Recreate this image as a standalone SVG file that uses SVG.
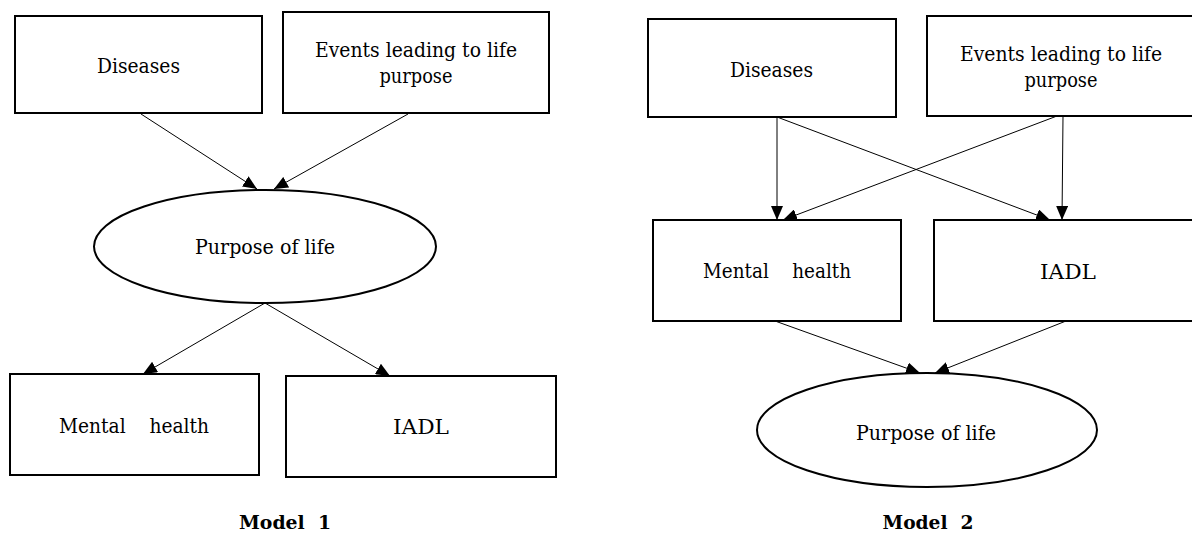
<svg xmlns="http://www.w3.org/2000/svg" width="1192" height="534" viewBox="0 0 1192 534">
<defs>
<style>
.box{fill:#fff;stroke:#000;stroke-width:2}
.ell{fill:#fff;stroke:#000;stroke-width:2}
text{font-family:"DejaVu Serif", "Liberation Serif", serif;font-size:20px;fill:#000}
.cap{font-weight:bold;font-size:19px}
.edge{stroke:#000;stroke-width:1;fill:none;marker-end:url(#ah)}
</style>
<marker id="ah" markerUnits="userSpaceOnUse" markerWidth="14" markerHeight="12" refX="14" refY="6" orient="auto">
<path d="M0,0 L14,6 L0,12 z" fill="#000"/>
</marker>
</defs>
<rect width="1192" height="534" fill="#fff"/>
<g id="connectors">
<line class="edge" x1="141" y1="114" x2="257" y2="189"/>
<line class="edge" x1="408" y1="114" x2="274" y2="189"/>
<line class="edge" x1="265" y1="303" x2="143" y2="374"/>
<line class="edge" x1="265" y1="303" x2="390" y2="376"/>
<line class="edge" x1="777" y1="117" x2="777" y2="220"/>
<line class="edge" x1="777" y1="117" x2="1050" y2="220"/>
<line class="edge" x1="1057" y1="116" x2="783" y2="220"/>
<line class="edge" x1="1063" y1="116" x2="1062" y2="220"/>
<line class="edge" x1="775" y1="321" x2="920" y2="373"/>
<line class="edge" x1="1066" y1="321" x2="935" y2="373"/>
</g>
<g id="m1-diseases">
<rect class="box" x="15" y="16" width="247" height="97"/>
<text x="138.5" y="73" text-anchor="middle" textLength="83" lengthAdjust="spacingAndGlyphs">Diseases</text>
</g>
<g id="m1-events">
<rect class="box" x="283" y="12" width="266" height="101"/>
<text x="416" y="57" text-anchor="middle" textLength="202" lengthAdjust="spacingAndGlyphs">Events leading to life</text>
<text x="416" y="83" text-anchor="middle" textLength="73" lengthAdjust="spacingAndGlyphs">purpose</text>
</g>
<g id="m1-purpose">
<ellipse class="ell" cx="265" cy="246.5" rx="171" ry="56.5"/>
<text x="265" y="254" text-anchor="middle" textLength="140" lengthAdjust="spacingAndGlyphs">Purpose of life</text>
</g>
<g id="m1-mental">
<rect class="box" x="10" y="374" width="249" height="101"/>
<text x="59" y="433" textLength="150" lengthAdjust="spacingAndGlyphs" xml:space="preserve">Mental    health</text>
</g>
<g id="m1-iadl">
<rect class="box" x="286" y="376" width="270" height="101"/>
<text x="421" y="434" text-anchor="middle" textLength="56" lengthAdjust="spacingAndGlyphs">IADL</text>
</g>
<g id="m1-caption">
<text class="cap" x="285" y="529" text-anchor="middle" textLength="92" lengthAdjust="spacingAndGlyphs" xml:space="preserve">Model  1</text>
</g>
<g id="m2-diseases">
<rect class="box" x="648" y="19" width="248" height="98"/>
<text x="771.5" y="77" text-anchor="middle" textLength="83" lengthAdjust="spacingAndGlyphs">Diseases</text>
</g>
<g id="m2-events">
<rect class="box" x="927" y="16" width="268" height="100"/>
<text x="1061" y="61" text-anchor="middle" textLength="202" lengthAdjust="spacingAndGlyphs">Events leading to life</text>
<text x="1061" y="87" text-anchor="middle" textLength="73" lengthAdjust="spacingAndGlyphs">purpose</text>
</g>
<g id="m2-mental">
<rect class="box" x="653" y="220" width="248" height="101"/>
<text x="703" y="278" textLength="148" lengthAdjust="spacingAndGlyphs" xml:space="preserve">Mental    health</text>
</g>
<g id="m2-iadl">
<rect class="box" x="934" y="220" width="262" height="101"/>
<text x="1068" y="279" text-anchor="middle" textLength="56" lengthAdjust="spacingAndGlyphs">IADL</text>
</g>
<g id="m2-purpose">
<ellipse class="ell" cx="927" cy="430" rx="170" ry="57"/>
<text x="926" y="440" text-anchor="middle" textLength="140" lengthAdjust="spacingAndGlyphs">Purpose of life</text>
</g>
<g id="m2-caption">
<text class="cap" x="928" y="529" text-anchor="middle" textLength="91" lengthAdjust="spacingAndGlyphs" xml:space="preserve">Model  2</text>
</g>
</svg>
